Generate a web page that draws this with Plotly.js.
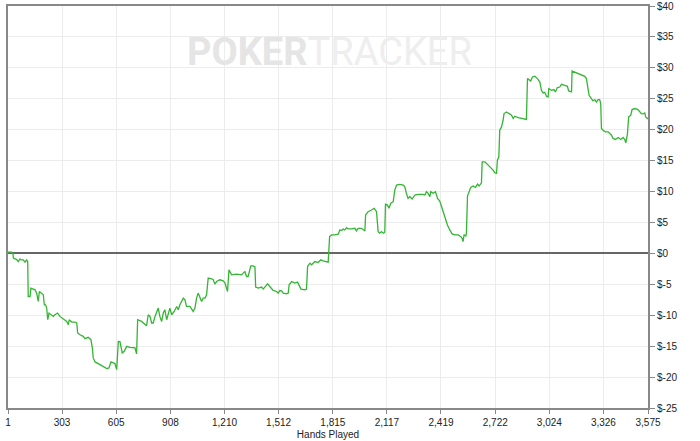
<!DOCTYPE html>
<html>
<head>
<meta charset="utf-8">
<script src="https://cdn.plot.ly/plotly-3.0.1.min.js"></script>
<style>html,body{margin:0;padding:0;background:#fff;}#chart{width:700px;height:441px;}</style>
</head>
<body>
<div id="chart"></div>
<script>
var hands = [1,22,29,31,50,58,68,74,86,96,105,111,114,124,129,152,161,170,176,189,198,204,211,217,223,230,245,254,263,278,291,310,329,338,343,357,375,385,390,403,421,431,449,464,472,477,487,515,533,552,565,576,589,598,608,617,626,
639,650,664,682,710,719,725,747,766,775,784,794,803,812,822,831,840,849,859,868,877,887,896,905,915,929,943,952,961,971,980,989,998,1017,1035,1045,1054,1063,1073,1082,1091,1101,1110,1119,1138,1147,1156,1166,1184,1203,1212,1227,1235,
1250,1278,1306,1314,1324,1333,1342,1357,1370,1380,1384,1398,1417,1426,1436,1451,1463,1473,1482,1501,1510,1519,1529,1538,1557,1566,1571,1585,1603,1618,1625,1637,1659,1668,1674,1687,1696,1715,1733,1748,1761,1780,1789,1797,
1808,1826,1845,1854,1864,1873,1882,1892,1900,1919,1938,1947,1956,1975,1984,1994,1998,2012,2031,2046,2059,2068,2077,2087,2096,2105,2109,2120,2128,2139,2152,2161,2171,2189,2208,2217,2226,2235,2245,2258,2273,2291,2319,2329,2338,2347,2357,2362,2375,2388,2400,2412,2425,2436,2450,2455,2468,2481,2496,2515,2530,2537,2542,2548,2558,2561,2567,2574,2585,2598,2612,2623,2632,2645,2649,2664,2673,2691,2710,2719,2729,2734,2742,2747,2757,2766,2771,2785,2794,2813,2822,2831,2850,2868,2887,2896,2902,2909,2920,2930,2943,2958,2971,2980,2989,2998,3008,3017,3021,3036,3050,3058,3069,3082,3092,3110,3125,3132,3148,3151,3166,3184,3203,3222,3231,3240,3246,3259,3268,3278,3287,3296,3305,3311,3315,3324,3337,3352,3361,3371,3380,3393,3408,3423,3436,3445,3451,3460,3467,3479,3486,3501,3519,3538,3547,3557,3562,3572,3575];

var profit = [0.19,0.19,-0.13,-0.77,-1.0,-1.32,-0.89,-1.05,-1.05,-1.42,-1.05,-1.32,-6.97,-6.97,-5.61,-5.89,-6.42,-7.77,-6.16,-6.42,-6.69,-8.31,-8.31,-8.84,-10.73,-9.65,-9.92,-10.19,-9.92,-9.65,-10.19,-10.56,-11.0,-11.53,-10.73,-11.1,-11.1,-11.26,-12.87,-13.15,-13.42,-13.79,-13.58,-13.95,-15.29,-16.9,-17.55,-17.98,-18.26,-18.63,-18.52,-17.55,-17.71,-17.82,-18.79,-14.23,-14.27,
-16.1,-15.84,-15.03,-15.19,-15.29,-16.26,-10.73,-11.0,-11.53,-11.69,-9.92,-10.19,-11.26,-11.26,-10.19,-9.65,-8.84,-10.19,-11.0,-9.65,-9.11,-10.73,-9.65,-8.84,-9.92,-9.39,-8.58,-9.11,-8.31,-7.77,-7.23,-7.5,-8.58,-8.58,-9.39,-8.84,-7.23,-6.42,-7.23,-7.77,-7.23,-7.23,-6.69,-4.0,-4.11,-4.27,-4.97,-4.55,-4.27,-4.44,-4.76,-6.16,-2.66,
-3.47,-3.35,-3.47,-3.19,-2.94,-3.74,-3.74,-2.02,-2.02,-2.18,-5.45,-5.61,-5.45,-5.77,-5.35,-4.92,-5.35,-5.61,-6.0,-6.16,-6.42,-6.0,-6.05,-6.42,-6.53,-6.42,-5.08,-4.55,-4.81,-4.65,-5.08,-5.77,-5.89,-5.77,-2.13,-1.58,-1.85,-1.32,-1.48,-1.05,-1.21,-1.32,-1.42,2.71,
2.98,2.98,3.1,3.79,3.71,3.95,3.79,4.16,3.95,3.95,4.06,3.63,4.06,4.06,3.84,3.63,6.21,6.74,7.02,7.29,6.74,3.52,3.26,3.52,3.26,3.42,7.94,7.82,7.29,8.1,8.35,10.24,11.05,11.16,11.05,10.77,9.71,8.9,9.16,8.79,9.44,9.55,9.55,9.44,9.97,9.71,9.16,9.97,9.71,9.97,8.9,8.47,7.29,6.21,5.13,4.6,3.79,3.15,2.98,2.98,2.71,2.45,1.9,2.98,2.82,3.26,9.27,9.71,10.68,10.89,10.68,11.21,10.89,11.42,14.81,14.81,14.55,14.11,13.47,13.03,12.94,15.08,15.61,19.92,20.45,21.53,22.61,22.87,22.71,22.34,21.81,22.18,21.97,21.81,21.74,21.65,28.26,28.1,27.87,28.52,28.63,28.26,27.71,26.37,25.94,26.05,25.4,25.29,26.65,26.37,26.48,26.1,26.81,26.9,27.34,27.18,27.02,26.26,26.1,29.48,29.32,29.06,28.9,28.63,28.26,26.9,25.56,25.03,24.65,24.87,24.48,24.87,24.87,24.23,20.19,19.92,19.65,19.65,19.39,19.11,18.58,18.42,18.74,18.42,18.74,18.42,17.87,19.27,22.06,22.34,23.26,23.42,23.26,22.61,22.55,22.71,22.06,21.81,21.9];

var xTickVals = [1,303,605,908,1210,1512,1815,2117,2419,2722,3024,3326,3575];
var xTickText = ["1","303","605","908","1,210","1,512","1,815","2,117","2,419","2,722","3,024","3,326","3,575"];
var yTickVals = [-25,-20,-15,-10,-5,0,5,10,15,20,25,30,35,40];
var yTickText = ["$-25","$-20","$-15","$-10","$-5","$0","$5","$10","$15","$20","$25","$30","$35","$40"];

var tickFont = {family: "Liberation Sans, Arial, sans-serif", size: 10, color: "#222"};

var trace = {
  x: hands, y: profit, type: "scatter", mode: "lines",
  line: {color: "#34b534", width: 1.3},
  hoverinfo: "skip", showlegend: false
};

var layout = {
  width: 700, height: 441,
  margin: {l: 8, r: 52, t: 6, b: 33},
  paper_bgcolor: "#ffffff", plot_bgcolor: "#ffffff",
  showlegend: false,
  xaxis: {
    range: [1, 3575],
    tickmode: "array", tickvals: xTickVals, ticktext: xTickText,
    ticks: "outside", ticklen: 4, tickcolor: "#888", tickwidth: 1,
    showline: true, linecolor: "#888", linewidth: 2, mirror: true,
    showgrid: true, gridcolor: "#ececec", gridwidth: 1,
    zeroline: false, tickfont: tickFont, ticklabeloverflow: "allow",
    title: {text: "Hands Played", font: {family: "Liberation Sans, Arial, sans-serif", size: 10, color: "#222"}, standoff: 4}
  },
  yaxis: {
    side: "right",
    range: [-25, 40],
    tickmode: "array", tickvals: yTickVals, ticktext: yTickText,
    ticks: "outside", ticklen: 5, tickcolor: "#888", tickwidth: 1,
    showline: true, linecolor: "#888", linewidth: 2, mirror: true,
    showgrid: true, gridcolor: "#ececec", gridwidth: 1,
    zeroline: true, zerolinecolor: "#666666", zerolinewidth: 2,
    tickfont: tickFont, ticklabeloverflow: "allow"
  },
  annotations: [{
    xref: "paper", yref: "paper", x: 0.502, y: 0.885,
    xanchor: "center", yanchor: "middle", showarrow: false,
    text: "<b><span style='color:#e5e5e5'>POKER</span></b><span style='color:#eeeeee'>TRACKER</span>",
    font: {family: "Roboto, Open Sans, sans-serif", size: 38, color: "#e6e6e6"}
  }]
};

Plotly.newPlot("chart", [trace], layout, {displayModeBar: false, staticPlot: true});
</script>
</body>
</html>
